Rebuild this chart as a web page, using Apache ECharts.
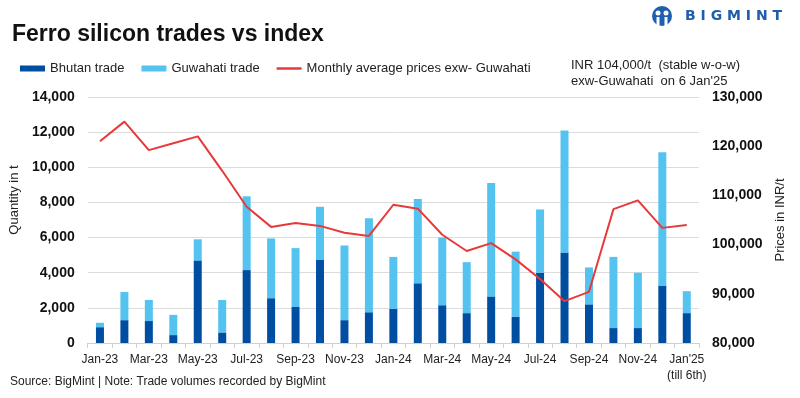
<!DOCTYPE html>
<html>
<head>
<meta charset="utf-8">
<script src="https://cdn.jsdelivr.net/npm/echarts@6/dist/echarts.min.js"></script>
<style>
  html, body { margin: 0; padding: 0; background: #fff; }
  #chart { width: 800px; height: 398px; }
</style>
</head>
<body>
<div id="chart"></div>
<script>
  // 月份
  const months = ['Jan-23','Feb-23','Mar-23','Apr-23','May-23','Jun-23','Jul-23','Aug-23','Sep-23','Oct-23','Nov-23','Dec-23',
    'Jan-24','Feb-24','Mar-24','Apr-24','May-24','Jun-24','Jul-24','Aug-24','Sep-24','Oct-24','Nov-24','Dec-24',"Jan'25\n(till 6th)"]
  // Bhutan 交易量
  const bhutan = [900,1300,1250,450,4700,600,4150,2550,2050,4750,1300,1750,
    1950,3400,2150,1700,2650,1500,4000,5150,2200,850,850,3250,1700]
  // Guwahati 交易量
  const guwahati = [250,1600,1200,1150,1200,1850,4200,3400,3350,3000,4250,5350,
    2950,4800,3850,2900,6450,3700,3600,6950,2100,4050,3150,7600,1250]
  // 月均价格
  const prices = [121000,125000,119200,120600,122000,115000,107700,103600,104400,103800,102400,101750,
    108100,107300,102000,98700,100300,97000,93000,88500,90400,107200,109000,103400,104000]

  const font = 'Arial, "Liberation Sans", sans-serif'
  const chart = echarts.init(document.getElementById('chart'))

  const option = {
    animation: false,
    textStyle: { fontFamily: font },
    title: {
      text: 'Ferro silicon trades vs index',
      left: 7,
      top: 18,
      textStyle: { fontSize: 23, fontWeight: 'bold', color: '#111' }
    },
    legend: {
      left: 15,
      top: 57,
      itemWidth: 25,
      itemHeight: 6,
      itemGap: 17,
      textStyle: { fontSize: 13, color: '#222' },
      data: [
        { name: 'Bhutan trade', icon: 'rect' },
        { name: 'Guwahati trade', icon: 'rect' },
        { name: 'Monthly average prices exw- Guwahati', icon: 'path://M0,0H25V2.5H0Z' }
      ]
    },
    grid: { left: 86, right: 101, top: 97, bottom: 55 },
    xAxis: {
      type: 'category',
      data: months,
      axisLine: { lineStyle: { color: '#d0d0d0' } },
      axisTick: { show: true, interval: 0, length: 5, lineStyle: { color: '#d0d0d0' } },
      axisLabel: { interval: 1, color: '#222', fontSize: 12, margin: 9, lineHeight: 16 }
    },
    yAxis: [
      {
        type: 'value',
        min: 0,
        max: 14000,
        interval: 2000,
        name: 'Quantity in t',
        nameLocation: 'middle',
        nameGap: 64,
        nameTextStyle: { fontSize: 13, color: '#222', padding: [0, 0, 0, 40] },
        axisLabel: {
          color: '#111', fontSize: 14, fontWeight: 'bold', margin: 13,
          formatter: v => v.toLocaleString('en-US')
        },
        splitLine: { lineStyle: { color: '#dcdcdc' } }
      },
      {
        type: 'value',
        min: 80000,
        max: 130000,
        interval: 10000,
        name: 'Prices in INR/t',
        nameLocation: 'middle',
        nameGap: 70,
        nameTextStyle: { fontSize: 13, color: '#222' },
        axisLabel: {
          color: '#111', fontSize: 14, fontWeight: 'bold', margin: 13,
          formatter: v => v.toLocaleString('en-US')
        },
        splitLine: { show: false }
      }
    ],
    color: ['#004ea2', '#55c3f0', '#e8393a'],
    series: [
      {
        name: 'Bhutan trade',
        type: 'bar',
        stack: 'trade',
        barWidth: 8,
        data: bhutan
      },
      {
        name: 'Guwahati trade',
        type: 'bar',
        stack: 'trade',
        barWidth: 8,
        data: guwahati
      },
      {
        name: 'Monthly average prices exw- Guwahati',
        type: 'line',
        yAxisIndex: 1,
        symbol: 'none',
        lineStyle: { width: 2, color: '#e8393a' },
        data: prices
      }
    ],
    graphic: [
      {
        type: 'text',
        left: 571,
        top: 57,
        style: {
          text: "INR 104,000/t  (stable w-o-w)\nexw-Guwahati  on 6 Jan'25",
          font: '13px ' + font,
          lineHeight: 16,
          fill: '#222'
        }
      },
      {
        type: 'text',
        left: 10,
        top: 376,
        style: {
          text: 'Source: BigMint | Note: Trade volumes recorded by BigMint',
          font: '12px ' + font,
          fill: '#222'
        }
      },
      // 标志
      {
        type: 'circle',
        shape: { cx: 662, cy: 16, r: 10 },
        style: { fill: '#1f5dad' }
      },
      {
        type: 'circle',
        shape: { cx: 658, cy: 13, r: 2.5 },
        style: { fill: '#fff' }
      },
      {
        type: 'circle',
        shape: { cx: 666, cy: 13, r: 2.5 },
        style: { fill: '#fff' }
      },
      {
        type: 'rect',
        shape: { x: 656.5, y: 17, width: 3, height: 9 },
        style: { fill: '#fff' }
      },
      {
        type: 'rect',
        shape: { x: 664.5, y: 17, width: 3, height: 9 },
        style: { fill: '#fff' }
      },
      {
        type: 'text',
        left: 685,
        top: 9,
        style: {
          text: 'B I G M I N T',
          font: 'bold 14px "DejaVu Sans", sans-serif',
          fill: '#1f5dad'
        }
      }
    ]
  }
  chart.setOption(option)

  window.addEventListener('resize', () => {
    chart.resize()
  })
</script>
</body>
</html>
